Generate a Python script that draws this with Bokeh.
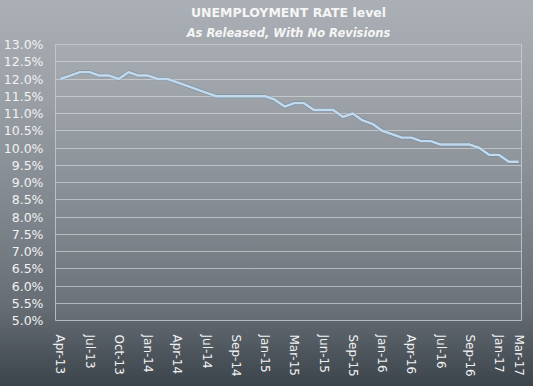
import numpy as np
from bokeh.plotting import figure
from bokeh.models import FixedTicker, PrintfTickFormatter, Title, Range1d, GlobalInlineStyleSheet
from bokeh.embed import file_html
from bokeh.resources import INLINE

# ---- data -------------------------------------------------------------
rate = [12.0, 12.1, 12.2, 12.2, 12.1, 12.1, 12.0, 12.2, 12.1, 12.1, 12.0, 12.0,
        11.9, 11.8, 11.7, 11.6, 11.5, 11.5, 11.5, 11.5, 11.5, 11.5, 11.4, 11.2,
        11.3, 11.3, 11.1, 11.1, 11.1, 10.9, 11.0, 10.8, 10.7, 10.5, 10.4, 10.3,
        10.3, 10.2, 10.2, 10.1, 10.1, 10.1, 10.1, 10.0, 9.8, 9.8, 9.6, 9.6]
release_index = list(range(len(rate)))

tick_labels = ["Apr-13", "Jul-13", "Oct-13", "Jan-14", "Apr-14", "Jul-14", "Sep-14",
               "Jan-15", "Mar-15", "Jun-15", "Sep-15", "Jan-16", "Apr-16", "Jul-16",
               "Sep-16", "Jan-17", "Mar-17"]
tick_positions = [0, 3, 6, 9, 12, 15, 18, 21, 24, 27, 30, 33, 36, 39, 42, 45, 47]

y_ticks = [5.0, 5.5, 6.0, 6.5, 7.0, 7.5, 8.0, 8.5, 9.0, 9.5, 10.0, 10.5,
           11.0, 11.5, 12.0, 12.5, 13.0]

title_text = "UNEMPLOYMENT RATE level"
subtitle_text = "As Released, With No Revisions"

# ---- figure -----------------------------------------------------------
bg = GlobalInlineStyleSheet(css="""
html { background: linear-gradient(to bottom, #aab0b5 0%, #9aa0a6 25%, #7f868d 55%,
        #656c74 80%, #3b434b 100%); min-height: 100%; }
body { background: transparent; }
""")

p = figure(width=533, height=386, output_backend="svg", toolbar_location=None,
           x_range=Range1d(-0.5, 47.3), y_range=Range1d(5, 13),
           min_border_left=55, min_border_right=12, min_border_bottom=66,
           min_border_top=44, title=title_text)
p.stylesheets = [bg]

p.border_fill_color = None
p.background_fill_color = "white"
p.background_fill_alpha = 0.04
p.outline_line_color = "#c9cdd1"
p.outline_line_alpha = 0.8
p.outline_line_width = 1

p.title.text_font = "DejaVu Sans"
p.title.text_font_size = "12.5px"
p.title.text_font_style = "bold"
p.title.text_color = "#f5f5f5"
p.title.align = "center"
p.title.standoff = 0
p.title.offset = 0

sub_title = Title(text=subtitle_text, align="center", text_font="DejaVu Sans",
                  text_font_size="11.5px", text_font_style="bold italic",
                  text_color="#f5f5f5", standoff=9)
p.add_layout(sub_title, "above")

# axes
for ax in (p.xaxis[0], p.yaxis[0]):
    ax.axis_line_color = None
    ax.major_tick_line_color = None
    ax.minor_tick_line_color = None
    ax.major_label_text_font = "DejaVu Sans"
    ax.major_label_text_color = "#f2f2f2"

p.xaxis.ticker = FixedTicker(ticks=tick_positions)
p.xaxis.major_label_overrides = {pos: lab for pos, lab in zip(tick_positions, tick_labels)}
p.xaxis.major_label_orientation = "vertical"
p.xaxis.major_label_text_font_size = "12px"
p.xaxis.major_label_standoff = 8

p.yaxis.ticker = FixedTicker(ticks=y_ticks)
p.yaxis.formatter = PrintfTickFormatter(format="%.1f%%")
p.yaxis.major_label_text_font_size = "12.5px"
p.yaxis.major_label_standoff = 6

p.xgrid.grid_line_color = None
p.ygrid.grid_line_color = "#d6dadd"
p.ygrid.grid_line_alpha = 0.65
p.ygrid.grid_line_width = 1

# line with a subtle darker edge
p.line(release_index, rate, line_color="#5f7a93", line_width=3.8, line_alpha=0.45)
p.line(release_index, rate, line_color="#c0dbf0", line_width=2.4)

open("out.html", "w").write(file_html(p, INLINE))
